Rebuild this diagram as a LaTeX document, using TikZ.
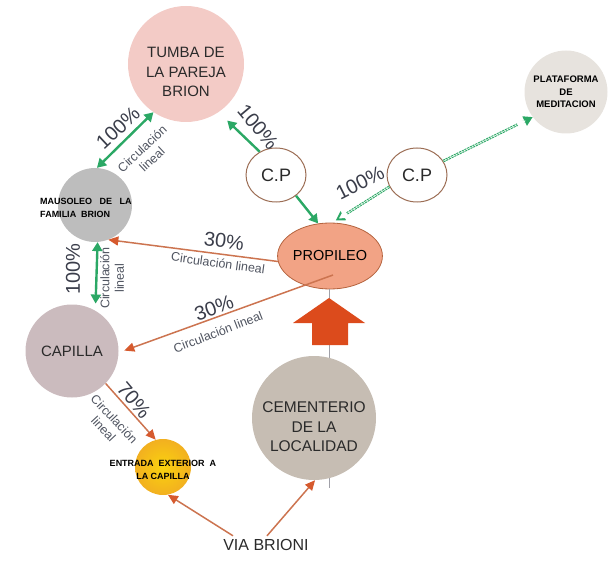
\documentclass[tikz,border=0pt]{standalone}
\usepackage{fontspec}
\setmainfont{Liberation Sans}
\usetikzlibrary{arrows.meta,calc,shapes.geometric}
\definecolor{grn}{HTML}{2BA865}
\definecolor{tumbac}{HTML}{F3CBC6}
\definecolor{mausc}{HTML}{BDBDBD}
\definecolor{capc}{HTML}{CBBBBE}
\definecolor{propc}{HTML}{F2A385}
\definecolor{propb}{HTML}{B5643F}
\definecolor{cemc}{HTML}{C6BDB3}
\definecolor{platc}{HTML}{E7E3DE}
\definecolor{cpb}{HTML}{9C6E55}
\definecolor{oline}{HTML}{CC7450}
\definecolor{ohead}{HTML}{D65A2E}
\definecolor{bigarr}{HTML}{DC4B1C}
\definecolor{vlinec}{HTML}{A0A0A8}
\definecolor{txt}{HTML}{2A2A2A}
\definecolor{pctc}{HTML}{3A3D4A}
\definecolor{circc}{HTML}{4F5460}
\definecolor{entin}{HTML}{FAD20E}
\definecolor{entout}{HTML}{F2B020}
\begin{document}
\begin{tikzpicture}[x=1pt,y=-1pt,
  circ/.style={circle, inner sep=0pt, draw=none},
  big/.style={font=\fontsize{15}{19.5}\selectfont, text=txt, align=center},
  small/.style={font=\fontsize{9}{13}\selectfont\bfseries, text=black, align=center},
  pct/.style={font=\fontsize{20}{22}\selectfont, text=pctc, inner sep=0pt},
  circl/.style={font=\fontsize{12.5}{14.5}\selectfont, text=circc, align=center, inner sep=0pt},
  gtip/.tip={Triangle[length=9pt,width=10pt]},
  garrow/.style={draw=grn, line width=2.4pt, -gtip},
  gboth/.style={draw=grn, line width=2.4pt, gtip-gtip},
  gdot/.style={draw=grn, line width=2.6pt, dash pattern=on 2.2pt off 0.8pt, -gtip,
     postaction={draw=white, line width=0.5pt, solid, shorten >=8pt}},
  oarrow/.style={draw=oline, line width=1.5pt, -{Triangle[length=10pt,width=9pt,color=ohead]}},
  cpstyle/.style={ellipse, draw=cpb, fill=white, line width=1pt, minimum width=60pt, minimum height=54pt, inner sep=0pt,
     font=\fontsize{18}{20}\selectfont, text=txt}
]
\useasboundingbox (0,0) rectangle (613,564);

% main nodes
\node[circ, fill=tumbac, minimum size=116pt,
  label={[big, yshift=-8pt]center:TUMBA DE\\LA PAREJA\\BRION}] (tumba) at (186,64) {};
\node[circ, fill=mausc, minimum size=74pt,
  label={[small, align=left, yshift=-3pt, xshift=-9pt]center:MAUSOLEO\ \ \ DE\ \ \ LA\\FAMILIA\ \ BRION}] (maus) at (95,205) {};
\node[circ, fill=capc, minimum size=93pt, big] (cap) at (72,351) {CAPILLA};
\node[ellipse, fill=propc, draw=propb, line width=0.8pt, minimum width=76pt, minimum height=66pt, inner sep=0pt,
  font=\fontsize{14.5}{16}\selectfont, text=black] (prop) at (330,256) {PROPILEO};
\node[cpstyle] (cp1) at (276,175) {C.P};
\node[cpstyle] (cp2) at (417,175) {C.P};
\node[circ, fill=platc, minimum size=83pt, small, font=\fontsize{9.5}{12.5}\selectfont\bfseries,
  ] (plat) at (566,92) {PLATAFORMA\\DE\\MEDITACION};

% vertical line and big arrow
\coordinate (vend) at (329,488);
\draw[vlinec, line width=1pt] ([xshift=-1pt]prop.south) -- (vend);
\draw[fill=bigarr, draw=none] (293,323) -- (329,298) -- (365,323) -- (348,323) -- (348,345) -- (312,345) -- (312,323) -- cycle;

\node[circ, fill=cemc, minimum size=124pt,
  label={[big, font=\fontsize{15.5}{19.5}\selectfont, yshift=-9pt]center:CEMENTERIO\\DE LA\\LOCALIDAD}] (cem) at (314,418) {};
\node[circ, shade, inner color=entin, outer color=entout, minimum size=56pt,
  label={[small, yshift=-3pt]center:ENTRADA\ \ EXTERIOR\ \ A\\LA CAPILLA}] (ent) at (163,467) {};
\node[big, font=\fontsize{16}{18}\selectfont] (via) at (266,545) {VIA BRIONI};

% green connectors
\draw[gboth] (maus.87) -- (tumba.-124);
\draw[garrow, shorten >=12pt] (cp1.125) -- (tumba.-56);
\draw[garrow] (cp1.-46) -- (prop.110);
\draw[gdot, shorten >=4pt] (cp2.-157) -- (prop.86);
\draw[gdot] (cp2.28) -- (plat.-143);
\draw[gboth, shorten >=7pt] (maus.-86) -- (cap.60);

% orange connectors
\coordinate (ps) at (333,275);
\draw[oarrow] (prop.-174) -- (maus.-69);
\draw[oarrow, shorten >=6pt] (ps) -- (cap.-2);
\draw[oarrow] (cap.-44) -- (ent.105);
\draw[oarrow] ([xshift=-33pt]via.north) -- (ent.-80);
\draw[oarrow] ([xshift=1pt]via.north) -- (cem.-89);

% labels
\node[pct, rotate=43] (p1) at (118,128) {100\%};
\node[circl, rotate=43] (c1) at (147,154) {Circulación\\lineal};
\node[pct, rotate=-50] (p2) at (258,127) {100\%};
\node[pct, rotate=27] (p3) at (360,183) {100\%};
\node[pct, rotate=-7] (p4) at (224,241) {30\%};
\node[circl, rotate=-8] (c4) at (218,263) {Circulación lineal};
\node[pct, rotate=20] (p5) at (214,308) {30\%};
\node[circl, rotate=21] (c5) at (218,332) {Circulación lineal};
\node[pct, rotate=90] (p6) at (73,269) {100\%};
\node[circl, rotate=90] (c6) at (112,278) {Circulación\\lineal};
\node[pct, rotate=-50] (p7) at (134,400) {70\%};
\node[circl, rotate=-47] (c7) at (109,424) {Circulación\\lineal};
\end{tikzpicture}
\end{document}
